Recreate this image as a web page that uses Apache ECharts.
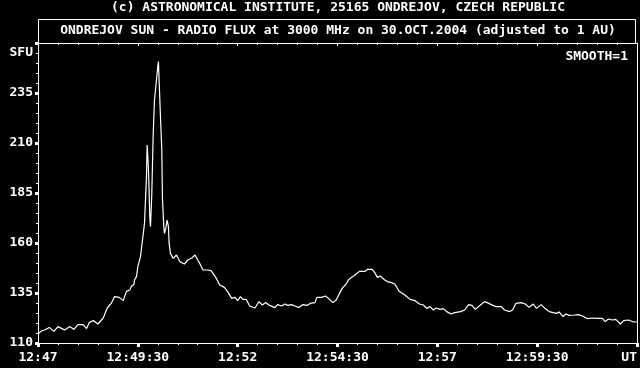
<!DOCTYPE html>
<html><head><meta charset="utf-8">
<script src="https://cdn.jsdelivr.net/npm/echarts@6/dist/echarts.min.js"></script>
<style>html,body{margin:0;padding:0;background:#000;}#c{width:640px;height:368px;}</style>
</head><body><div id="c"></div>
<script>
const topLine = "(c) ASTRONOMICAL INSTITUTE, 25165 ONDREJOV, CZECH REPUBLIC";
const titleText = "ONDREJOV SUN - RADIO FLUX at 3000 MHz on 30.OCT.2004 (adjusted to 1 AU)";
const smoothText = "SMOOTH=1";
const unitText = "SFU";
const startTime = "12:47:00";
const endTime = "13:02:00";
const xTickLabels = ["12:47","12:49:30","12:52","12:54:30","12:57","12:59:30","UT"];
const yMin = 110, yMax = 260, yStep = 25;

const times = [
"12:47:00","12:47:06","12:47:10","12:47:17","12:47:24","12:47:30","12:47:36","12:47:40","12:47:48","12:47:54",
"12:48:00","12:48:08","12:48:13","12:48:17","12:48:23","12:48:30","12:48:38","12:48:44","12:48:50","12:48:55",
"12:49:02","12:49:08","12:49:13","12:49:18","12:49:20","12:49:24","12:49:25","12:49:28","12:49:30","12:49:34",
"12:49:37","12:49:40","12:49:43","12:49:44","12:49:45","12:49:46","12:49:48","12:49:49","12:49:51","12:49:53",
"12:49:55","12:49:58","12:50:00","12:50:01","12:50:02","12:50:04","12:50:06","12:50:07","12:50:09","12:50:10",
"12:50:12","12:50:14","12:50:16","12:50:17","12:50:19","12:50:23","12:50:28","12:50:33","12:50:40","12:50:45","12:50:51",
"12:50:56","12:51:00","12:51:03","12:51:08","12:51:15","12:51:20","12:51:23","12:51:28","12:51:33","12:51:36",
"12:51:40","12:51:45","12:51:51","12:51:56","12:52:00","12:52:04","12:52:08","12:52:13","12:52:18","12:52:26",
"12:52:32","12:52:37","12:52:42","12:52:48","12:52:56","12:53:00","12:53:06","12:53:11","12:53:15","12:53:21",
"12:53:26","12:53:32","12:53:38","12:53:44","12:53:49","12:53:56","12:53:59","12:54:06","12:54:12","12:54:18",
"12:54:23","12:54:28","12:54:33","12:54:37","12:54:43","12:54:47","12:54:53","12:54:58","12:55:03","12:55:11",
"12:55:15","12:55:22","12:55:26","12:55:30","12:55:34","12:55:41","12:55:45","12:55:51","12:55:56","12:56:03",
"12:56:09","12:56:13","12:56:19","12:56:26","12:56:33","12:56:39","12:56:44","12:56:49","12:56:54","12:56:58",
"12:57:04","12:57:09","12:57:14","12:57:21","12:57:26","12:57:29","12:57:35","12:57:41","12:57:47","12:57:52",
"12:57:57","12:58:03","12:58:11","12:58:15","12:58:21","12:58:28","12:58:36","12:58:41","12:58:44","12:58:49",
"12:58:53","12:58:58","12:59:06","12:59:12","12:59:18","12:59:24","12:59:29","12:59:36","12:59:42","12:59:48",
"12:59:54","12:59:59","13:00:03","13:00:09","13:00:13","13:00:18","13:00:26","13:00:32","13:00:38","13:00:45",
"13:00:53","13:01:00","13:01:08","13:01:12","13:01:17","13:01:23","13:01:28","13:01:35","13:01:40","13:01:47",
"13:01:55","13:02:00"
];
const flux = [
114.5,116.2,116.5,117.8,115.8,118.2,117.2,116.5,118.2,116.8,
119.2,119.2,117.2,120.2,121.2,119.5,122.5,127.5,129.8,133.2,
132.8,131.2,135.8,136.5,138.2,139.2,141.5,143.2,148.2,153.2,
161.5,169.8,193.2,209.0,203.0,196.5,173.0,168.2,184.8,213.2,
231.5,241.5,248.2,250.7,240.7,223.2,206.5,182.0,168.2,164.8,
167.3,171.5,168.2,159.8,154.8,152.3,154.0,150.7,149.5,151.5,152.5,
154.0,151.5,149.8,146.5,146.5,146.2,144.8,142.3,139.0,138.2,
137.8,135.7,132.3,132.8,131.2,133.2,131.8,131.8,128.5,127.5,
130.7,129.0,130.2,128.8,127.7,129.2,128.5,129.5,128.8,129.2,
128.5,127.7,129.2,128.8,129.8,130.2,132.8,132.8,133.5,131.8,
130.2,131.5,134.8,137.3,139.5,141.8,143.2,144.5,145.8,145.8,
146.8,146.8,145.2,142.8,143.5,141.5,140.7,140.2,139.5,135.7,
134.5,133.5,131.8,131.2,129.5,129.0,127.3,128.2,126.5,127.5,
126.8,127.2,125.7,124.5,125.2,126.2,125.7,126.5,129.2,128.8,
126.8,128.5,130.7,130.2,129.2,128.2,128.2,126.5,127.3,125.7,
126.5,129.8,130.2,129.5,127.8,129.5,127.3,129.2,127.2,125.7,
125.2,124.8,125.5,123.2,124.5,123.8,124.0,124.2,123.5,122.2,
122.5,122.3,122.3,120.7,122.0,121.5,121.8,119.5,121.2,121.5,
120.5,120.5
];

function toSec(t){const p=t.split(':').map(Number);return p[0]*3600+p[1]*60+(p[2]||0);}
const t0 = toSec(startTime), tEnd = toSec(endTime);
const span = tEnd - t0;
const xStep = span / (xTickLabels.length - 1);
const data = times.map((t,i)=>[toSec(t)-t0, flux[i]]);

const FF = "'DejaVu Sans Mono', monospace";
const FONT = "bold 13px 'DejaVu Sans Mono', monospace";
const W = '#ffffff';

const chart = echarts.init(document.getElementById('c'), null, {renderer:'canvas'});
chart.setOption({
  backgroundColor:'#000000',
  animation:false,
  grid:{left:38, top:43, width:600, height:300, containLabel:false},
  xAxis:[{
    type:'value', min:0, max:span, interval:xStep, position:'bottom',
    axisLine:{show:true, onZero:false, lineStyle:{color:W, width:1}},
    axisTick:{show:true, inside:false, length:4, lineStyle:{color:W, width:3}},
    minorTick:{show:true, splitNumber:5, length:2, lineStyle:{color:W, width:1}},
    splitLine:{show:false}, minorSplitLine:{show:false},
    axisLabel:{color:W, fontFamily:FF, fontWeight:'bold', fontSize:13, margin:8,
      showMinLabel:true, showMaxLabel:true, alignMaxLabel:'right',
      formatter:(v)=>xTickLabels[Math.round(v/xStep)]||''}
  },{
    type:'value', min:0, max:span, interval:xStep, position:'top',
    axisLine:{show:true, onZero:false, lineStyle:{color:W, width:1}},
    axisTick:{show:true, inside:true, length:3, lineStyle:{color:W, width:1}},
    minorTick:{show:true, splitNumber:5, length:2, lineStyle:{color:W, width:1}},
    splitLine:{show:false}, axisLabel:{show:false}
  }],
  yAxis:[{
    type:'value', min:yMin, max:yMax, interval:yStep, position:'left',
    axisLine:{show:true, onZero:false, lineStyle:{color:W, width:1}},
    axisTick:{show:true, inside:false, length:3, lineStyle:{color:W, width:3}},
    minorTick:{show:true, splitNumber:5, length:2, lineStyle:{color:W, width:1}},
    splitLine:{show:false}, minorSplitLine:{show:false},
    axisLabel:{color:W, fontFamily:FF, fontWeight:'bold', fontSize:13, margin:5,
      showMinLabel:true, showMaxLabel:true,
      formatter:(v)=> v>=yMax ? '' : String(v)}
  },{
    type:'value', min:yMin, max:yMax, interval:yStep, position:'right',
    axisLine:{show:true, onZero:false, lineStyle:{color:W, width:1}},
    axisTick:{show:false}, splitLine:{show:false}, axisLabel:{show:false}
  }],
  series:[{
    type:'line', xAxisIndex:0, yAxisIndex:0, data:data,
    symbol:'none', showSymbol:false, smooth:false,
    lineStyle:{color:W, width:1.2}, itemStyle:{color:W}
  }],
  graphic:[
    {type:'rect', shape:{x:38.5, y:19.5, width:597, height:24}, style:{fill:null, stroke:W, lineWidth:1}},
    {type:'text', x:338, y:8, style:{text:topLine, fill:W, font:FONT, align:'center', verticalAlign:'middle'}},
    {type:'text', x:338, y:31, style:{text:titleText, fill:W, font:FONT, align:'center', verticalAlign:'middle'}},
    {type:'text', x:628, y:57, style:{text:smoothText, fill:W, font:FONT, align:'right', verticalAlign:'middle'}},
    {type:'text', x:33, y:53, style:{text:unitText, fill:W, font:FONT, align:'right', verticalAlign:'middle'}}
  ]
});
</script>
</body></html>
